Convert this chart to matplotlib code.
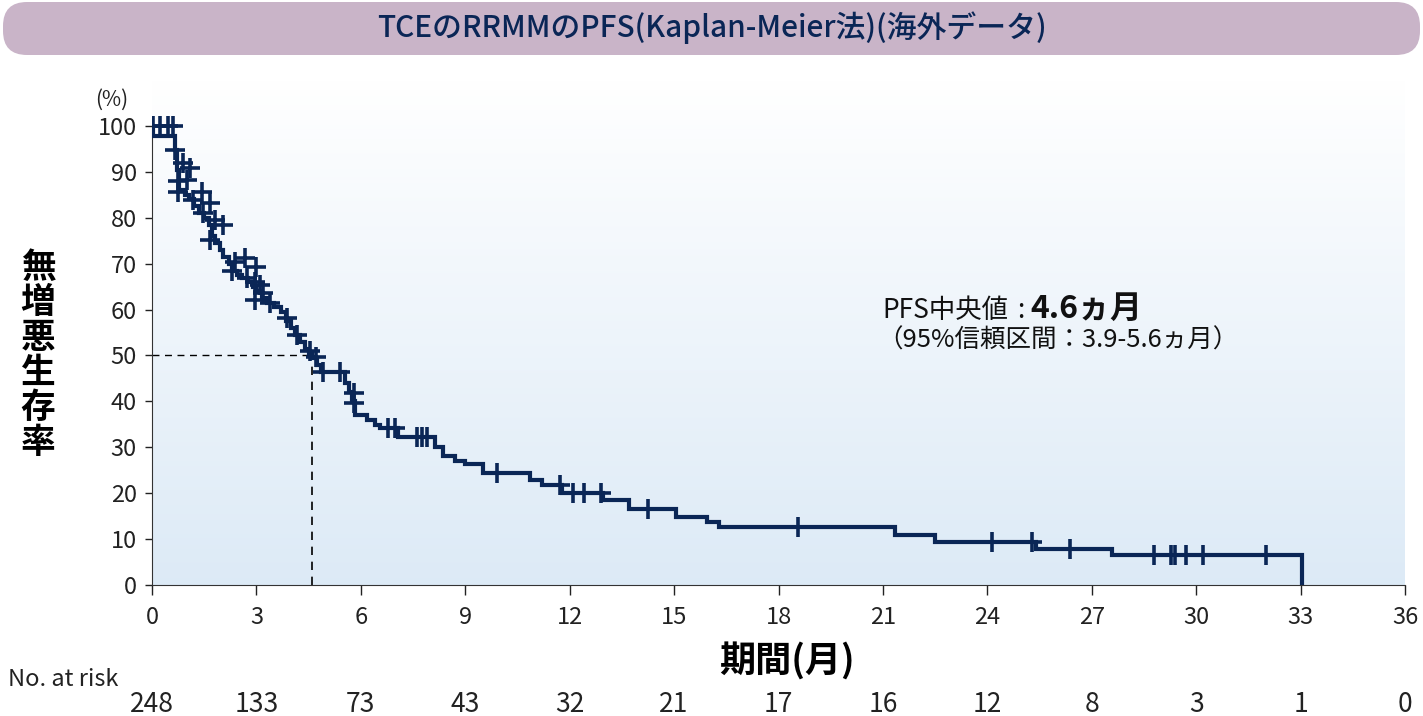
import numpy as np
import matplotlib
matplotlib.use("Agg")
import matplotlib.pyplot as plt
from matplotlib.patches import FancyBboxPatch
from matplotlib import transforms

plt.rcParams['font.family'] = ['Noto Sans CJK JP', 'DejaVu Sans']

W, H = 1423, 716

# Kaplan-Meier steps (months, %)
km_t = [0, 0.04, 0.66, 0.72, 0.78, 0.95, 1.05, 1.2, 1.35, 1.5, 1.65, 1.72, 1.8, 1.95,
        2.05, 2.2, 2.3, 2.45, 2.6, 2.75, 2.9, 3.0, 3.15, 3.3, 3.5, 3.7, 3.85, 4.0,
        4.1, 4.25, 4.4, 4.5, 4.6, 4.75, 4.85, 5.55, 5.65, 5.75, 5.82, 6.17, 6.4,
        6.55, 7.07, 8.13, 8.36, 8.7, 9.0, 9.5, 10.86, 11.2, 11.77, 12.96, 13.7,
        15.05, 15.95, 16.3, 21.35, 22.5, 25.4, 27.58, 33.04]
km_s = [100, 97.7, 94.8, 90.5, 86, 85, 84, 82.5, 81, 80, 78.5, 76, 74.5, 73,
        71.5, 70, 68.5, 67.5, 66.8, 66, 65, 64, 62.5, 61.5, 60.5, 59.5, 57.5, 56,
        54.5, 53, 51.5, 50.5, 49.5, 48, 46.5, 44, 42, 40, 37, 35.9, 34.9,
        34.1, 32.2, 30.1, 28, 27, 26.3, 24.3, 22.9, 21.8, 20, 18.5, 16.6,
        14.8, 13.7, 12.7, 10.9, 9.3, 7.8, 6.6, 0]

# censored observations
cens_t = [0.04, 0.23, 0.46, 0.6, 0.66, 0.76, 0.76, 0.9, 1.0, 1.09, 1.19, 1.43, 1.47,
          1.67, 1.67, 1.81, 2.05, 2.29, 2.38, 2.67, 2.72, 2.96, 2.96, 3.0, 3.1, 3.2,
          3.39, 3.87, 4.16, 4.55, 4.7, 4.92, 5.4, 5.8, 5.8, 6.79, 6.98, 7.6, 7.75,
          7.9, 9.9, 11.72, 12.1, 12.42, 12.9, 14.26, 18.55, 24.13, 25.28, 26.37,
          28.8, 29.28, 29.4, 29.7, 30.2, 32.0]
cens_s = [100, 100, 100, 100, 94.8, 87.9, 85.7, 91.9, 88.2, 90.8, 83.9, 85.7, 81,
          83.2, 75.2, 79.5, 78.4, 68.3, 70.4, 71.2, 66.8, 66.1, 62.1, 69.3, 65.4, 63.6,
          61.4, 58.1, 54.5, 51, 49.7, 46.5, 46.5, 41.8, 39.6, 34.1, 34.1, 32.2, 32.2,
          32.2, 24.3, 21.8, 20, 20, 20, 16.6, 12.7, 9.3, 9.3, 7.8,
          6.6, 6.6, 6.6, 6.6, 6.6, 6.6]

xticks = [0, 3, 6, 9, 12, 15, 18, 21, 24, 27, 30, 33, 36]
yticks = [0, 10, 20, 30, 40, 50, 60, 70, 80, 90, 100]
at_risk = [248, 133, 73, 43, 32, 21, 17, 16, 12, 8, 3, 1, 0]
median = 4.6

navy = '#0a2656'

def fx(px):
    return px / W

def fy(py):
    return 1 - py / H

fig = plt.figure(figsize=(W / 100, H / 100), dpi=100)
ax = fig.add_axes([fx(152), fy(585), fx(1405) - fx(152), fy(80) - fy(585)])

# gradient background
grad = np.linspace(0, 1, 256).reshape(-1, 1)
top = np.array([1.0, 1.0, 1.0])
bot = np.array([0.865, 0.918, 0.966])
img = top + (bot - top) * grad[:, :, None]
ax.imshow(img, extent=[0, 36, 0, 110], aspect='auto', origin='upper', zorder=0)

ax.plot(km_t, km_s, drawstyle='steps-post', color=navy, lw=3.0, zorder=3,
        solid_joinstyle='miter')
ax.plot(cens_t, cens_s, ls='none', marker='+', ms=15, mew=2.6, color=navy, zorder=4)

# median lines
ax.plot([0, median], [50, 50], color='black', lw=1, ls=(0, (5, 4)), zorder=2)
ax.plot([median, median], [0, 50], color='black', lw=1.2, ls=(0, (5, 4)), zorder=2)

ax.set_xlim(0, 36)
ax.set_ylim(0, 110)
ax.set_xticks(xticks)
ax.set_yticks(yticks)
ax.tick_params(axis='x', length=7, width=1, pad=8, labelsize=17, colors='#222222')
ax.tick_params(axis='y', length=5, width=1, pad=6, labelsize=17, colors='#222222')
for s in ['top', 'right']:
    ax.spines[s].set_visible(False)
ax.spines['left'].set_bounds(0, 100)
ax.spines['left'].set_color('#333333')
ax.spines['bottom'].set_color('#333333')

# title bar
axt = fig.add_axes([0, fy(58), 1, fy(0) - fy(58)])
axt.set_xlim(0, W)
axt.set_ylim(0, 58)
axt.axis('off')
axt.add_patch(FancyBboxPatch((3, 3), W - 6, 53, boxstyle='round,pad=0,rounding_size=24',
                             facecolor='#c9b4c8', edgecolor='none'))
axt.text(W / 2, 30, 'TCEのRRMMのPFS(Kaplan-Meier法)(海外データ)', ha='center', va='center',
         fontsize=21.5, fontweight='medium', color=navy)

# axis labels
fig.text(fx(38), fy(355), '無\n増\n悪\n生\n存\n率', ha='center', va='center',
         fontsize=25, fontweight='bold', linespacing=1.0, color='black')
fig.text(fx(112), fy(100), '(%)', ha='center', va='center', fontsize=15, color='#222222')
fig.text(fx(787), fy(662), '期間(月)', ha='center', va='center', fontsize=26,
         fontweight='bold', color='black')

# annotation
fig.text(fx(882), fy(318), 'PFS中央値', ha='left', va='baseline', fontsize=19, color='#111111')
fig.text(fx(1021), fy(318), ':', ha='center', va='baseline', fontsize=19, color='#111111')
fig.text(fx(1030), fy(318), '4.6ヵ月', ha='left', va='baseline', fontsize=23,
         fontweight='bold', color='#111111')
fig.text(fx(877), fy(348), '（95%信頼区間：3.9-5.6ヵ月）', ha='left', va='baseline',
         fontsize=18.4, color='#111111')

# number at risk
fig.text(fx(8), fy(680), 'No. at risk', ha='left', va='center', fontsize=17, color='#222222')
tr = transforms.blended_transform_factory(ax.transData, fig.transFigure)
for xt, n in zip(xticks, at_risk):
    ax.text(xt, fy(705), str(n), transform=tr, ha='center', va='center', fontsize=19,
            color='#222222', clip_on=False)

fig.savefig('out.png', dpi=100)
